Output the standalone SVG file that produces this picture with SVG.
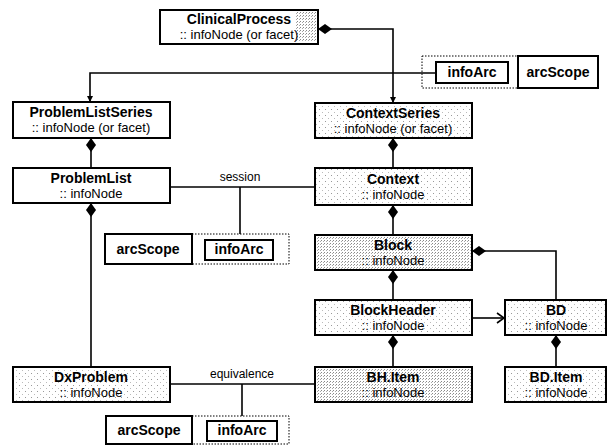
<svg xmlns="http://www.w3.org/2000/svg" width="614" height="445" viewBox="0 0 614 445">
  <style>
    .box { stroke: #000; stroke-width: 2; }
    .plain { fill: #fff; }
    .light { fill: url(#dotsLight); }
    .heavy { fill: url(#dotsHeavy); }
    .dashed { fill: none; stroke: #000; stroke-width: 1; stroke-dasharray: 1.5 1.5; }
    .tag { fill: #fff; stroke: #000; stroke-width: 2; }
    .title { font-family: "Liberation Sans", Arial, sans-serif; font-weight: bold; font-size: 14px; text-anchor: middle; fill: #000; }
    .sub { font-family: "Liberation Sans", Arial, sans-serif; font-size: 13px; text-anchor: middle; fill: #000; }
    .lbl { font-family: "Liberation Sans", Arial, sans-serif; font-size: 12px; text-anchor: middle; fill: #000; }
    .conn { fill: none; stroke: #000; stroke-width: 1.6; }
  </style>
  <defs>
    <pattern id="dotsLight" width="6" height="6" patternUnits="userSpaceOnUse">
      <rect width="6" height="6" fill="#fff"/>
      <rect x="1" y="1" width="1" height="1" fill="#999"/>
      <rect x="4" y="4" width="1" height="1" fill="#bbb"/>
    </pattern>
    <pattern id="dotsHeavy" width="3" height="3" patternUnits="userSpaceOnUse">
      <rect width="3" height="3" fill="#fff"/>
      <rect x="0" y="0" width="1" height="1" fill="#888"/>
      <rect x="2" y="1" width="1" height="1" fill="#aaa"/>
    </pattern>
    <marker id="diamond" markerUnits="userSpaceOnUse" markerWidth="16" markerHeight="12" refX="0" refY="5" orient="auto" overflow="visible">
      <path d="M0,5 L7,0 L14,5 L7,10 Z" fill="#000"/>
    </marker>
    <marker id="arrowSolid" markerUnits="userSpaceOnUse" markerWidth="8" markerHeight="8" refX="6" refY="3" orient="auto" overflow="visible">
      <path d="M0,0 L6,3 L0,6 Z" fill="#000"/>
    </marker>
    <marker id="arrowOpen" markerUnits="userSpaceOnUse" markerWidth="10" markerHeight="12" refX="8" refY="5" orient="auto" overflow="visible">
      <path d="M1,0 L8,5 L1,10" fill="none" stroke="#000" stroke-width="1.6"/>
    </marker>
  </defs>

  <rect width="614" height="445" fill="#fff"/>

  <!-- connectors -->
  <g id="connectors">
    <path class="conn" d="M318,29 H393 V103" marker-start="url(#diamond)" marker-end="url(#arrowSolid)"/>
    <path class="conn" d="M436,73 H90 V102" marker-end="url(#arrowSolid)"/>
    <path class="conn" d="M91,138 V168" marker-start="url(#diamond)"/>
    <path class="conn" d="M91,203 V367" marker-start="url(#diamond)"/>
    <path class="conn" d="M170,187 H315"/>
    <path class="conn" d="M240,187 V234"/>
    <path class="conn" d="M393,138 V168" marker-start="url(#diamond)"/>
    <path class="conn" d="M393,205 V235" marker-start="url(#diamond)"/>
    <path class="conn" d="M393,270 V300" marker-start="url(#diamond)"/>
    <path class="conn" d="M393,335 V367" marker-start="url(#diamond)"/>
    <path class="conn" d="M472,251 H556 V300" marker-start="url(#diamond)"/>
    <path class="conn" d="M472,318 H504" marker-end="url(#arrowOpen)"/>
    <path class="conn" d="M556,335 V367" marker-start="url(#diamond)"/>
    <path class="conn" d="M170,384 H315"/>
    <path class="conn" d="M242,384 V416"/>
    <text class="lbl" x="240" y="181">session</text>
    <text class="lbl" x="242" y="378">equivalence</text>
  </g>

  <!-- nodes -->
  <g id="clinicalProcess">
    <rect class="box plain" x="160" y="10" width="158" height="34"/>
    <rect x="296" y="12" width="20" height="30" fill="url(#dotsHeavy)"/>
    <text class="title" x="239" y="24">ClinicalProcess</text>
    <text class="sub" x="239" y="39">:: infoNode (or facet)</text>
  </g>

  <g id="problemListSeries">
    <rect class="box plain" x="13" y="102" width="157" height="36"/>
    <text class="title" x="91" y="117">ProblemListSeries</text>
    <text class="sub" x="91" y="132">:: infoNode (or facet)</text>
  </g>

  <g id="problemList">
    <rect class="box plain" x="13" y="168" width="157" height="35"/>
    <text class="title" x="91" y="183">ProblemList</text>
    <text class="sub" x="91" y="198">:: infoNode</text>
  </g>

  <g id="dxProblem">
    <rect class="box light" x="13" y="367" width="157" height="35"/>
    <text class="title" x="91" y="382">DxProblem</text>
    <text class="sub" x="91" y="397">:: infoNode</text>
  </g>

  <g id="contextSeries">
    <rect class="box light" x="315" y="103" width="157" height="35"/>
    <text class="title" x="393" y="118">ContextSeries</text>
    <text class="sub" x="393" y="133">:: infoNode (or facet)</text>
  </g>

  <g id="context">
    <rect class="box light" x="315" y="168" width="157" height="37"/>
    <text class="title" x="393" y="184">Context</text>
    <text class="sub" x="393" y="199">:: infoNode</text>
  </g>

  <g id="block">
    <rect class="box heavy" x="315" y="235" width="157" height="35"/>
    <text class="title" x="393" y="250">Block</text>
    <text class="sub" x="393" y="265">:: infoNode</text>
  </g>

  <g id="blockHeader">
    <rect class="box light" x="315" y="300" width="157" height="35"/>
    <text class="title" x="393" y="315">BlockHeader</text>
    <text class="sub" x="393" y="330">:: infoNode</text>
  </g>

  <g id="bhItem">
    <rect class="box heavy" x="315" y="367" width="157" height="35"/>
    <text class="title" x="393" y="382">BH.Item</text>
    <text class="sub" x="393" y="397">:: infoNode</text>
  </g>

  <g id="bd">
    <rect class="box light" x="505" y="300" width="101" height="35"/>
    <text class="title" x="556" y="315">BD</text>
    <text class="sub" x="556" y="330">:: infoNode</text>
  </g>

  <g id="bdItem">
    <rect class="box light" x="505" y="367" width="101" height="35"/>
    <text class="title" x="556" y="382">BD.Item</text>
    <text class="sub" x="556" y="397">:: infoNode</text>
  </g>

  <!-- arc descriptor tags -->
  <g id="arcTop">
    <rect class="dashed" x="422" y="56" width="96" height="32"/>
    <rect class="tag" x="436" y="62" width="72" height="21"/>
    <text class="title" x="472" y="77">infoArc</text>
    <rect class="tag" x="518" y="56" width="80" height="32"/>
    <text class="title" x="558" y="77">arcScope</text>
  </g>

  <g id="arcSession">
    <rect class="tag" x="105" y="234" width="87" height="30"/>
    <text class="title" x="148" y="254">arcScope</text>
    <rect class="dashed" x="192" y="234" width="97" height="30"/>
    <rect class="tag" x="205" y="240" width="68" height="20"/>
    <text class="title" x="239" y="254">infoArc</text>
  </g>

  <g id="arcEquivalence">
    <rect class="tag" x="106" y="416" width="86" height="28"/>
    <text class="title" x="149" y="435">arcScope</text>
    <rect class="dashed" x="192" y="416" width="97" height="28"/>
    <rect class="tag" x="207" y="421" width="70" height="20"/>
    <text class="title" x="242" y="435">infoArc</text>
  </g>
</svg>
